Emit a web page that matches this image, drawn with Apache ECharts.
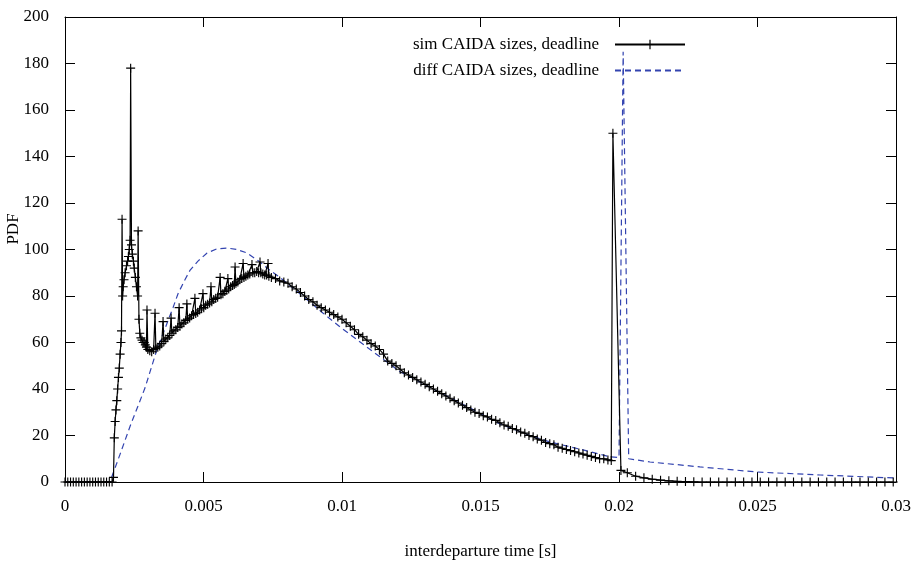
<!DOCTYPE html>
<html>
<head>
<meta charset="utf-8">
<script src="https://cdn.jsdelivr.net/npm/echarts@6/dist/echarts.min.js"></script>
<style>
html,body{margin:0;padding:0;background:#fff;}
#chart{width:919px;height:563px;}
</style>
</head>
<body>
<div id="chart"></div>
<script>
// ---- data ----
const seriesNames = ['sim CAIDA sizes, deadline', 'diff CAIDA sizes, deadline'];
const xTickLabels = ['0', '0.005', '0.01', '0.015', '0.02', '0.025', '0.03'];
const yTickLabels = ['0','20','40','60','80','100','120','140','160','180','200'];

const simT = [
 0,0.0001,0.0002,0.0003,0.0004,0.0005,0.0006,0.0007,0.0008,0.0009,0.0010,0.0011,0.0012,0.0013,0.0014,0.0015,0.0016,0.0017,
 0.00175,0.00178,0.00181,0.00184,0.00187,0.00190,0.00193,0.00196,0.00199,0.00202,0.00204,0.00206,0.00208,0.00210,0.00213,0.00217,
 0.00222,0.00226,0.00229,0.00232,0.00235,0.00237,0.00240,0.00243,0.00247,0.00250,0.00254,0.00258,0.00262,0.00264,0.00267,0.00270,
 0.00274,0.00278,0.00282,0.00286,0.00290,0.00294,0.00296,0.00299,0.00306,0.00313,0.00320,0.00325,0.00328,0.00335,0.00342,0.00349,
 0.00354,0.00357,0.00364,0.00371,0.00378,0.00383,0.00386,0.00393,0.00400,0.00407,0.00412,0.00415,0.00422,0.00429,0.00436,0.00440,
 0.00443,0.00450,0.00457,0.00464,0.00469,0.00472,0.00479,0.00486,0.00493,0.00498,0.00501,0.00508,0.00515,0.00522,0.00527,0.00530,
 0.00537,0.00544,0.00551,0.00560,0.00563,0.00570,0.00577,0.00584,0.00588,0.00591,0.00598,0.00605,0.00611,0.00614,0.00617,0.00624,
 0.00631,0.00638,0.00643,0.00646,0.00653,0.00660,0.00667,0.00675,0.00678,0.00685,0.00692,0.00699,0.00704,0.00707,0.00714,0.00721,
 0.00728,0.00733,0.00736,
 0.00745,0.00760,0.00775,0.00790,0.00805,0.00820,0.00835,0.00850,0.00865,0.00880,0.00895,0.00910,0.00925,0.00940,0.00955,0.00970,
 0.00985,0.01000,0.01015,0.01030,0.01045,0.01060,0.01075,0.01090,0.01105,0.01120,0.01135,0.01150,0.01165,0.01180,0.01195,0.01210,
 0.01225,0.01240,0.01255,0.01270,0.01285,0.01300,0.01315,0.01330,0.01345,0.01360,0.01375,0.01390,0.01405,0.01420,0.01435,0.01450,
 0.01465,0.01480,0.01495,0.01510,0.01525,0.01540,0.01555,0.01570,0.01585,0.01600,0.01615,0.01630,0.01645,0.01660,0.01675,0.01690,
 0.01705,0.01720,0.01735,0.01750,0.01765,0.01780,0.01795,0.01810,0.01825,0.01840,0.01855,0.01870,0.01885,0.01900,0.01915,0.01930,
 0.01945,0.01960,0.01972,0.01978,0.02007,
 0.02030,0.02060,0.02090,0.02120,0.02150,0.02180,0.02210,0.02240,0.02270,0.02300,0.02330,0.02360,0.02390,0.02420,0.02450,0.02480,
 0.02510,0.02540,0.02570,0.02600,0.02630,0.02660,0.02690,0.02720,0.02750,0.02780,0.02810,0.02840,0.02870,0.02900,0.02930,0.02960,0.02990
];
const simV = [
 0,0,0,0,0,0,0,0,0,0,0,0,0,0,0,0,0,0,
 2,19,26,31,35,40,45,49,55,60,65,113,80,84,87,90,
 93,95,97,100,104,178,102,98,95,92,88,84,80,108,70,64,
 62,61,60,60,59,58,74,57,56.5,56,57,72.6,57.5,58,58.5,59.5,
 69,60.5,61.5,62,63,70.5,64,65,65.5,66.5,75,67,68,68.5,69.5,76.6,
 70,70.5,71.5,72,79,72.5,73,74,74.5,81,75,76,76.5,77,84,77.5,
 78.5,79,79.5,88,80.5,81,82,82.5,87.5,83,84,84.5,85,92.5,85.5,86,
 87,87.5,94,88,88.5,89,89.5,93.5,90,90,90.5,90,94.6,90,89.5,89,
 89,94,88.5,
 88,87.5,86.5,86,85.5,84,83,81.5,80,78.5,77.5,76,75,74,73,72,
 71,70,68.5,67,65.5,63.5,62.5,61,59.5,58.5,57,55,52,51,50,48.5,
 47,46,45,44,43,42,41,40,39,38,37,36,35,34,33,32,
 31,30,29.5,28.5,28,27,26.5,25.5,24.5,24,23,22.5,21.5,21,20,19.5,
 18.5,18,17,16.5,16,15,14.5,14,13.5,13,12.5,12,11.5,11,10.5,10,
 10,9.5,9.2,150,5,
 4,2.5,1.8,1.2,0.8,0.5,0.3,0.2,0.1,0,0,0,0,0,0,0,
 0,0,0,0,0,0,0,0,0,0,0,0,0,0,0,0,0
];

const diffT = [0,0.0008,0.00162,0.00199,0.00235,0.00289,0.00332,0.00361,0.00390,0.00408,0.00433,0.00451,0.00480,0.00513,0.00549,
 0.00588,0.00621,0.00657,0.00704,0.00740,0.00776,0.00848,0.00931,0.00993,0.01090,0.01209,0.01329,0.01451,0.01570,0.01690,0.01751,
 0.01870,0.01968,0.02000,0.02015,0.02035,0.02112,0.02292,0.02498,0.02726,0.03];
const diffV = [0,0,0,12,24,40.5,57,66,75,81,87,91,95,98.5,100.3,
 100.6,100,98.5,94.6,91,88,81,72.7,66.7,58,47.5,40,32.5,25,19.5,17.2,
 13.8,10.8,10.5,185,10,8.6,6.5,4.3,3,1.7];

// ---- chart ----
const simData = simT.map((t, i) => [t, simV[i]]);
const diffData = diffT.map((t, i) => [t, diffV[i]]);
const font = 'Liberation Serif';
const plus = 'path://M3.5,0H4.5V3.5H8V4.5H4.5V8H3.5V4.5H0V3.5H3.5Z';
const blue = '#3344b0';

const chart = echarts.init(document.getElementById('chart'), null, {renderer: 'canvas'});
const tickStyle = {show: true, inside: true, length: 10, lineStyle: {color: '#000', width: 1}};
const lineStyleAxis = {show: true, onZero: false, lineStyle: {color: '#000', width: 1}};
chart.setOption({
  animation: false,
  backgroundColor: '#fff',
  grid: {left: 65, right: 23, top: 17, bottom: 81, show: false, outerBoundsMode: 'none'},
  legend: {
    orient: 'vertical', right: 228, top: 31, align: 'right',
    itemWidth: 70, itemHeight: 12, itemGap: 9,
    textStyle: {fontFamily: font, fontSize: 17, color: '#000', padding: [0, 11, 0, 0]},
    data: [
      {name: seriesNames[0]},
      {name: seriesNames[1], itemStyle: {opacity: 0}}
    ]
  },
  xAxis: [{
    type: 'value', min: 0, max: 0.03, interval: 0.005,
    axisLine: lineStyleAxis,
    axisTick: tickStyle,
    splitLine: {show: false},
    axisLabel: {margin: 16, fontFamily: font, fontSize: 17, color: '#000',
      formatter: v => xTickLabels[Math.round(v / 0.005)]},
    name: 'interdeparture time [s]', nameLocation: 'middle', nameGap: 61,
    nameTextStyle: {fontFamily: font, fontSize: 17, color: '#000'}
  }, {
    type: 'value', min: 0, max: 0.03, interval: 0.005, position: 'top',
    axisLine: lineStyleAxis,
    axisTick: tickStyle, axisLabel: {show: false}, splitLine: {show: false}
  }],
  yAxis: [{
    type: 'value', min: 0, max: 200, interval: 20,
    axisLine: lineStyleAxis,
    axisTick: tickStyle,
    splitLine: {show: false},
    axisLabel: {margin: 16, fontFamily: font, fontSize: 17, color: '#000',
      formatter: v => yTickLabels[Math.round(v / 20)]}
  }, {
    type: 'value', min: 0, max: 200, interval: 20, position: 'right',
    axisLine: lineStyleAxis,
    axisTick: tickStyle, axisLabel: {show: false}, splitLine: {show: false}
  }],
  graphic: [{
    type: 'text', x: 14, y: 229, rotation: Math.PI / 2,
    style: {text: 'PDF', fontFamily: font, fontSize: 17, fill: '#000', align: 'center', verticalAlign: 'middle'}
  }],
  series: [{
    name: seriesNames[0], type: 'line', data: simData,
    xAxisIndex: 0, yAxisIndex: 0,
    symbol: plus, symbolSize: 9, showSymbol: true,
    itemStyle: {color: '#000', borderWidth: 0},
    lineStyle: {color: '#000', width: 1.2},
    emphasis: {disabled: true}, z: 3
  }, {
    name: seriesNames[1], type: 'line', data: diffData,
    xAxisIndex: 0, yAxisIndex: 0,
    symbol: 'none', showSymbol: false,
    itemStyle: {color: blue},
    lineStyle: {color: blue, width: 1.2, type: [6, 4]},
    emphasis: {disabled: true}, z: 2
  }]
});
</script>
</body>
</html>
